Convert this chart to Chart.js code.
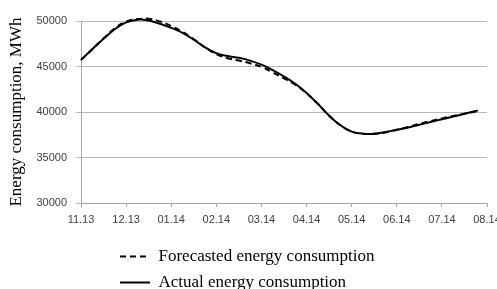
<!DOCTYPE html>
<html>
<head>
<meta charset="utf-8">
<script src="https://cdn.jsdelivr.net/npm/chart.js@4.4.0/dist/chart.umd.min.js"></script>
<style>
  html, body { margin: 0; padding: 0; background: #fff; }
  #wrap { width: 497px; height: 289px; }
</style>
</head>
<body>
<div id="wrap"><canvas id="myChart"></canvas></div>
<script>
// month labels on the x axis (index 0 = 11.13)
const monthLabels = ['11.13', '12.13', '01.14', '02.14', '03.14', '04.14', '05.14', '06.14', '07.14', '08.14'];

// sample positions, in months since 11.13
const samplePos = [0, 0.25, 0.5, 0.75, 1, 1.25, 1.5, 1.75, 2, 2.25, 2.5, 2.75, 3, 3.25, 3.5, 3.75,
  4, 4.25, 4.5, 4.75, 5, 5.25, 5.5, 5.75, 6, 6.25, 6.5, 6.75, 7, 7.25, 7.5, 7.75, 8, 8.25, 8.5, 8.75, 8.8];

// forecasted consumption, MWh
const forecasted = [45700, 46900, 48100, 49200, 49950, 50200, 50250, 49950, 49450, 48800, 48000, 47100,
  46350, 45900, 45650, 45350, 44950, 44350, 43700, 43000, 42050, 40900, 39600, 38550, 37850, 37620,
  37600, 37750, 38050, 38350, 38700, 39000, 39300, 39550, 39800, 40050, 40100];

// actual consumption, MWh
const actual = [45750, 46900, 48050, 49100, 49850, 50150, 50050, 49700, 49250, 48700, 47950, 47100,
  46450, 46150, 45950, 45650, 45200, 44600, 43900, 43100, 42100, 40900, 39600, 38550, 37850, 37620,
  37620, 37800, 38050, 38300, 38600, 38900, 39200, 39500, 39800, 40100, 40180];

const yTicks = [30000, 35000, 40000, 45000, 50000];

function toPoints(values) {
  const pts = [];
  for (let i = 0; i < values.length; i++) {
    pts.push({ x: samplePos[i], y: values[i] });
  }
  return pts;
}

const serif = 'Liberation Serif';
const sans = 'Liberation Sans';

// put the legend where the original has it (two left-aligned rows under the axis)
const legendPlacer = {
  id: 'legendPlacer',
  afterLayout(chart) {
    const lg = chart.legend;
    lg.left = 111;
    lg.top = 239;
  }
};

const ctx = document.getElementById('myChart').getContext('2d');
const myChart = new Chart(ctx, {
  type: 'line',
  data: {
    datasets: [{
      label: 'Forecasted energy consumption',
      data: toPoints(forecasted),
      borderColor: '#000',
      backgroundColor: '#000',
      borderWidth: 2,
      borderDash: [6, 4],
      pointRadius: 0,
      tension: 0.4,
      clip: 6
    }, {
      label: 'Actual energy consumption',
      data: toPoints(actual),
      borderColor: '#000',
      backgroundColor: '#000',
      borderWidth: 2,
      pointRadius: 0,
      tension: 0.4,
      clip: 6
    }]
  },
  options: {
    responsive: true,
    maintainAspectRatio: false,
    animation: false,
    layout: { padding: { top: 21, right: 10, left: 0, bottom: 0 } },
    plugins: {
      tooltip: { enabled: false },
      legend: {
        position: 'bottom',
        align: 'start',
        labels: {
          usePointStyle: true,
          pointStyle: 'line',
          pointStyleWidth: 30,
          padding: 9,
          color: '#000',
          font: { family: serif, size: 17 },
          // line samples keep the dataset's dash
          generateLabels: function(chart) {
            const items = Chart.defaults.plugins.legend.labels.generateLabels(chart);
            items.forEach(function(item) {
              const ds = chart.data.datasets[item.datasetIndex];
              item.lineDash = ds.borderDash || [];
              item.lineWidth = 2;
              item.strokeStyle = '#000';
            });
            return items;
          }
        }
      }
    },
    scales: {
      x: {
        type: 'linear',
        min: 0,
        max: 9,
        ticks: {
          stepSize: 1,
          autoSkip: false,
          maxRotation: 0,
          padding: 6,
          color: '#404040',
          font: { family: sans, size: 11 },
          callback: function(value) {
            return monthLabels[value];
          }
        },
        grid: { drawOnChartArea: false, drawTicks: true, tickLength: 4, color: '#a6a6a6' },
        border: { color: '#a6a6a6' },
        afterFit: function(scale) {
          scale.height = 24;
          scale.paddingLeft = 0;
          scale.paddingRight = 0;
        }
      },
      y: {
        min: 30000,
        max: 50000,
        afterBuildTicks: function(scale) {
          scale.ticks = yTicks.map(v => ({ value: v }));
        },
        ticks: {
          padding: 9,
          color: '#404040',
          font: { family: sans, size: 11 },
          callback: function(value) {
            return String(value);
          }
        },
        grid: { color: '#b8b8b8', tickLength: 5 },
        border: { color: '#a6a6a6' },
        title: {
          display: true,
          text: 'Energy consumption, MWh',
          color: '#000',
          padding: { top: 6, bottom: 0 },
          font: { family: serif, size: 17, weight: 'normal' }
        },
        afterFit: function(scale) {
          scale.width = 81;
        }
      }
    }
  },
  plugins: [legendPlacer]
});
</script>
</body>
</html>
